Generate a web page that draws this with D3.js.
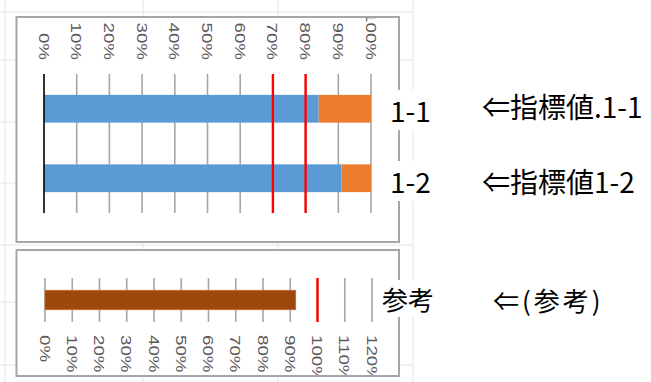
<!DOCTYPE html>
<html><head><meta charset="utf-8">
<script src="https://cdn.jsdelivr.net/npm/d3@7"></script>
<style>body{margin:0;background:#fff}svg{display:block}</style>
</head><body>
<svg id="c" width="651" height="382"></svg>
<script>
// ---- data ----
const categories = ["1-1", "1-2"];
const achieved = [0.84, 0.91];
const remaining = [0.16, 0.09];
const targets = [0.70, 0.80];
const notes = ["⇐指標値.1-1", "⇐指標値1-2"];
const topTicks = [0,0.1,0.2,0.3,0.4,0.5,0.6,0.7,0.8,0.9,1.0];
const refCategories = ["参考"];
const refValues = [0.92];
const refTargets = [1.00];
const refNotes = ["⇐(参考)"];
const bottomTicks = [0,0.1,0.2,0.3,0.4,0.5,0.6,0.7,0.8,0.9,1.0,1.1,1.2];

const svg = d3.select("#c");
const fmt = d3.format(".0%");

// spreadsheet background grid
const bgV = [5, 143, 278, 413];
const bgH = [12, 60, 122, 183, 245, 302, 365];
svg.selectAll(".bgv").data(bgV).join("line")
  .attr("x1", d => d).attr("x2", d => d).attr("y1", 0).attr("y2", 382)
  .attr("stroke", "#e4e4e4").attr("stroke-width", 1);
svg.selectAll(".bgh").data(bgH).join("line")
  .attr("x1", 0).attr("x2", 413).attr("y1", d => d).attr("y2", d => d)
  .attr("stroke", "#e4e4e4").attr("stroke-width", 1);

const defs = svg.append("defs");
defs.append("clipPath").attr("id", "clipTop").append("rect")
  .attr("x", 17).attr("y", 18).attr("width", 381).attr("height", 223);
defs.append("clipPath").attr("id", "clipBot").append("rect")
  .attr("x", 17).attr("y", 251).attr("width", 381).attr("height", 124);

const tickFont = "'Liberation Sans', Arial, sans-serif";

// ---------- top chart ----------
svg.append("rect").attr("x", 16.5).attr("y", 17).attr("width", 382.5).attr("height", 225)
  .attr("fill", "#fff").attr("stroke", "#a6a6a6").attr("stroke-width", 2);
const gTop = svg.append("g").attr("clip-path", "url(#clipTop)");
const xTop = d3.scaleLinear().domain([0, 1]).range([44, 371]);
const yTop = d3.scaleBand().domain(categories).range([74, 213]).paddingInner(0.6).paddingOuter(0.3);

gTop.selectAll(".grid").data(topTicks.filter(d => d > 0)).join("line")
  .attr("x1", d => xTop(d)).attr("x2", d => xTop(d)).attr("y1", 74).attr("y2", 213)
  .attr("stroke", "#a6a6a6").attr("stroke-width", 1.6);
gTop.selectAll(".tl").data(topTicks).join("text")
  .attr("transform", d => `translate(${xTop(d)},60) rotate(90) scale(1.25,1)`)
  .attr("text-anchor", "end").attr("dy", "0.36em")
  .attr("font-family", tickFont).attr("font-size", 15)
  .attr("fill", "#595959").text(d => fmt(d));
gTop.selectAll(".b1").data(categories).join("rect")
  .attr("x", xTop(0)).attr("y", d => yTop(d))
  .attr("width", (d, i) => xTop(achieved[i]) - xTop(0)).attr("height", yTop.bandwidth())
  .attr("fill", "#5b9bd5");
gTop.selectAll(".b2").data(categories).join("rect")
  .attr("x", (d, i) => xTop(achieved[i])).attr("y", d => yTop(d))
  .attr("width", (d, i) => xTop(achieved[i] + remaining[i]) - xTop(achieved[i])).attr("height", yTop.bandwidth())
  .attr("fill", "#ed7d31");
gTop.append("line").attr("x1", xTop(0)).attr("x2", xTop(0)).attr("y1", 74).attr("y2", 213)
  .attr("stroke", "#000").attr("stroke-width", 1.6);
gTop.selectAll(".tg").data(targets).join("line")
  .attr("x1", d => xTop(d)).attr("x2", d => xTop(d)).attr("y1", 74).attr("y2", 213)
  .attr("stroke", "#ff0000").attr("stroke-width", 2.4);

// ---------- bottom chart ----------
svg.append("rect").attr("x", 16.5).attr("y", 250).attr("width", 382.5).attr("height", 126)
  .attr("fill", "#fff").attr("stroke", "#a6a6a6").attr("stroke-width", 2);
const gBot = svg.append("g").attr("clip-path", "url(#clipBot)");
const xBot = d3.scaleLinear().domain([0, 1.2]).range([45, 372]);
const yBot = d3.scaleBand().domain(refCategories).range([278, 322]).paddingInner(0.56).paddingOuter(0.28);

gBot.selectAll(".grid").data(bottomTicks).join("line")
  .attr("x1", d => xBot(d)).attr("x2", d => xBot(d)).attr("y1", 278).attr("y2", 322)
  .attr("stroke", "#a6a6a6").attr("stroke-width", 1.6);
gBot.selectAll(".tl").data(bottomTicks).join("text")
  .attr("transform", d => `translate(${xBot(d)},335) rotate(90) scale(1.25,1)`)
  .attr("text-anchor", "start").attr("dy", "0.36em")
  .attr("font-family", tickFont).attr("font-size", 15)
  .attr("fill", "#595959").text(d => fmt(d));
gBot.selectAll(".rb").data(refCategories).join("rect")
  .attr("x", xBot(0)).attr("y", d => yBot(d))
  .attr("width", (d, i) => xBot(refValues[i]) - xBot(0)).attr("height", yBot.bandwidth())
  .attr("fill", "#9e480e").attr("stroke", "#c0692a").attr("stroke-width", 0.8);
gBot.selectAll(".rt").data(refTargets).join("line")
  .attr("x1", d => xBot(d)).attr("x2", d => xBot(d)).attr("y1", 278).attr("y2", 322)
  .attr("stroke", "#ff0000").attr("stroke-width", 2.4);

// ---------- labels ----------
const jp = "'Noto Sans CJK JP', sans-serif";
function label(x, y, t, size, spacing) {
  const g = svg.append("g");
  const bg = g.append("rect").attr("fill", "#fff");
  const tx = g.append("text").attr("x", x).attr("y", y)
    .attr("font-family", jp).attr("font-size", size).attr("fill", "#000")
    .attr("letter-spacing", spacing || 0).text(t);
  const b = tx.node().getBBox();
  bg.attr("x", b.x - 3).attr("y", b.y).attr("width", b.width + 6).attr("height", b.height);
}
const catLabelY = [122, 193];
categories.forEach((c, i) => label(390, catLabelY[i], c, 28));
const noteY = [118, 193];
notes.forEach((n, i) => label(482, noteY[i], n, 28));
refCategories.forEach(c => label(382, 310, c, 26));
refNotes.forEach(n => label(493, 311, n, 26, 3));
</script>
</body></html>
